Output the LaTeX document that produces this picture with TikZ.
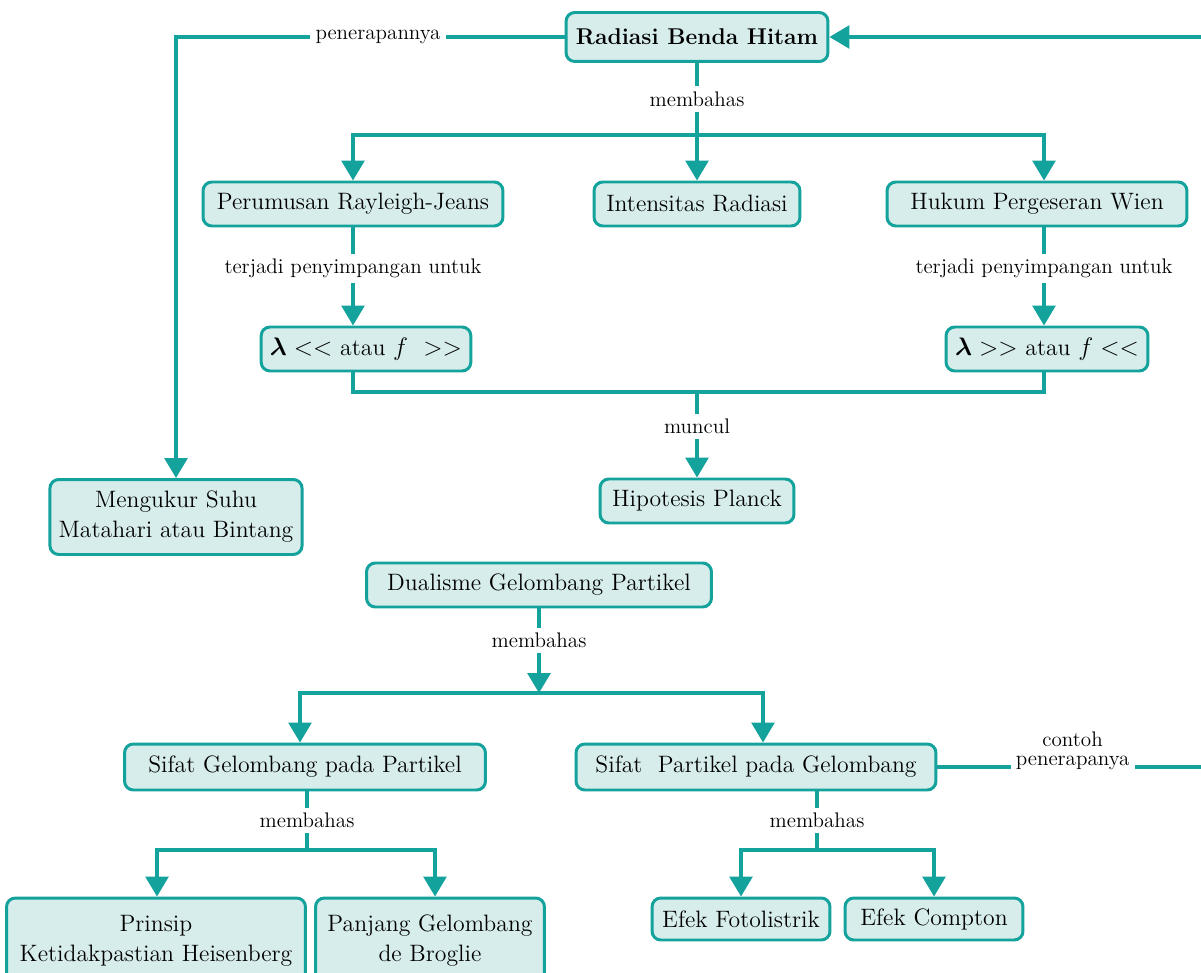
\documentclass[tikz,border=0pt]{standalone}
\usepackage{amsmath}
\usepackage{tikz}
\usetikzlibrary{arrows.meta}
\definecolor{tealline}{HTML}{13A29C}
\definecolor{tealfill}{HTML}{D7EDEC}
\tikzset{
  box/.style={draw=tealline,fill=tealfill,line width=1.7pt,rounded corners=5pt,minimum height=0.88cm,inner xsep=5pt,font=\fontsize{13.5}{17}\selectfont,align=center},
  lbl/.style={fill=white,inner sep=3pt,font=\fontsize{12}{13}\selectfont,align=center},
  line/.style={draw=tealline,line width=1.8pt},
  arr/.style={line,-{Triangle[width=0.46cm,length=0.4cm]}}
}

\begin{document}
\begin{tikzpicture}[x=0.02cm,y=-0.02cm]
\useasboundingbox (0,0) rectangle (1201,973);
\node[box,minimum width=5.24cm,minimum height=0.98cm,font=\fontsize{13}{16}\selectfont\bfseries] (rbh) at (697,37) {Radiasi Benda Hitam};
\node[box,minimum width=6cm] (prj) at (353,204) {Perumusan Rayleigh-Jeans};
\node[box,minimum width=4.12cm] (ir) at (697,204) {Intensitas Radiasi};
\node[box,minimum width=6cm] (hpw) at (1037,204) {Hukum Pergeseran Wien};
\node[box,minimum width=4.18cm] (lam1) at (366,349) {$\boldsymbol{\lambda}<<$ atau $f$\ \ $>>$};
\node[box,minimum width=4.04cm] (lam2) at (1047,349) {$\boldsymbol{\lambda}>>$ atau $f<<$};
\node[box,minimum width=3.88cm] (hp) at (697,501) {Hipotesis Planck};
\node[box,minimum width=4.94cm,minimum height=1.5cm] (mss) at (176,517) {Mengukur Suhu\\Matahari atau Bintang};
\node[box,minimum width=6.9cm] (dgp) at (539,585) {Dualisme Gelombang Partikel};
\node[box,minimum width=7.22cm,minimum height=0.92cm] (sgp) at (305,767) {Sifat Gelombang pada Partikel};
\node[box,minimum width=7.2cm,minimum height=0.92cm] (spg) at (756,767) {Sifat\ \ Partikel pada Gelombang};
\node[box,minimum width=5.98cm,minimum height=1.72cm] (pkh) at (156,941) {Prinsip\\Ketidakpastian Heisenberg};
\node[box,minimum width=4.58cm,minimum height=1.72cm] (pgb) at (430,941) {Panjang Gelombang\\de Broglie};
\node[box,minimum width=3.56cm,minimum height=0.84cm] (ef) at (741,919) {Efek Fotolistrik};
\node[box,minimum width=3.56cm,minimum height=0.84cm] (ec) at (934,919) {Efek Compton};

\coordinate (bar1) at (697,135);
\coordinate (bar2) at (697,392);
\coordinate (bar3) at (539,693);
\coordinate (bar4) at (307,850);
\coordinate (bar5) at (817,850);
\coordinate (far) at (1225,767);

\draw[line] (rbh) -- node[lbl]{membahas} (bar1);
\draw[arr] (bar1) -| (prj);
\draw[arr] (bar1) -- (ir);
\draw[arr] (bar1) -| (hpw.north -| 1044,0);
\draw[arr] (rbh.west) -| node[lbl,pos=0.24]{penerapannya} (mss);
\draw[arr] (spg.east) -- node[lbl,pos=0.47,yshift=0.32cm]{contoh\\[-2pt]penerapanya} (far) |- (rbh.east);

\draw[arr] (prj) -- node[lbl,pos=0.42]{terjadi\ penyimpangan\ untuk} (prj |- lam1.north);
\draw[arr] (hpw.south -| 1044,0) -- node[lbl,pos=0.42]{terjadi\ penyimpangan\ untuk} (lam2.north -| 1044,0);
\draw[line] (lam1.south -| prj) |- (bar2) -| (lam2.south -| 1044,0);
\draw[arr] (bar2) -- node[lbl,pos=0.4]{muncul} (hp);

\draw[arr] (dgp) -- node[lbl,pos=0.38]{membahas} (bar3);
\draw[arr] (bar3) -| (sgp.north -| 300,0);
\draw[arr] (bar3) -| (spg.north -| 763,0);
\draw[line] (sgp.south -| bar4) -- node[lbl]{membahas} (bar4);
\draw[arr] (bar4) -| (pkh.north -| 157,0);
\draw[arr] (bar4) -| (pgb.north -| 435,0);
\draw[line] (spg.south -| bar5) -- node[lbl]{membahas} (bar5);
\draw[arr] (bar5) -| (ef);
\draw[arr] (bar5) -| (ec);
\end{tikzpicture}
\end{document}
